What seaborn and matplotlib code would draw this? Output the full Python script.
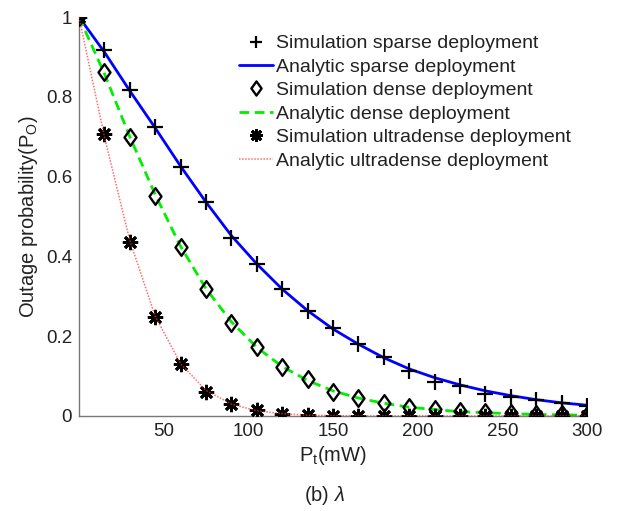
import matplotlib
matplotlib.use("Agg")
import matplotlib.pyplot as plt
import seaborn as sns
import pandas as pd
from matplotlib.path import Path

# ---- data ----
pt_mw = [0, 15, 30, 45, 60, 75, 90, 105, 120, 135, 150, 165, 180, 195, 210, 225, 240, 255, 270, 285, 300]

sim_sparse = [1.0, 0.918, 0.816, 0.725, 0.623, 0.537, 0.447, 0.381, 0.319, 0.262, 0.221, 0.181, 0.148, 0.113,
              0.085, 0.075, 0.055, 0.048, 0.040, 0.033, 0.025]
ana_sparse = [1.0, 0.912, 0.815, 0.722, 0.626, 0.536, 0.452, 0.381, 0.318, 0.264, 0.218, 0.180, 0.146, 0.118,
              0.096, 0.078, 0.063, 0.051, 0.041, 0.033, 0.027]
sim_dense = [1.0, 0.861, 0.700, 0.552, 0.424, 0.319, 0.233, 0.173, 0.123, 0.093, 0.060, 0.045, 0.033, 0.023,
             0.018, 0.013, 0.010, 0.008, 0.006, 0.004, 0.003]
ana_dense = [1.0, 0.858, 0.700, 0.555, 0.425, 0.319, 0.236, 0.172, 0.124, 0.089, 0.063, 0.045, 0.032, 0.022,
             0.016, 0.011, 0.008, 0.006, 0.004, 0.003, 0.002]
sim_ultra = [1.0, 0.706, 0.437, 0.247, 0.131, 0.061, 0.031, 0.015, 0.006, 0.003, 0.001, 0.0, 0.0, 0.0,
             0.0, 0.0, 0.0, 0.0, 0.0, 0.0, 0.0]
ana_ultra = [1.0, 0.700, 0.440, 0.250, 0.131, 0.064, 0.030, 0.013, 0.006, 0.002, 0.001, 0.0, 0.0, 0.0,
             0.0, 0.0, 0.0, 0.0, 0.0, 0.0, 0.0]

labels = ["Simulation sparse deployment", "Analytic sparse deployment",
          "Simulation dense deployment", "Analytic dense deployment",
          "Simulation ultradense deployment", "Analytic ultradense deployment"]
x_ticks = [50, 100, 150, 200, 250, 300]
y_ticks = [0, 0.2, 0.4, 0.6, 0.8, 1]
y_ticklabels = ["0", "0.2", "0.4", "0.6", "0.8", "1"]

df = pd.DataFrame({"pt": pt_mw, "sim_sparse": sim_sparse, "ana_sparse": ana_sparse,
                   "sim_dense": sim_dense, "ana_dense": ana_dense,
                   "sim_ultra": sim_ultra, "ana_ultra": ana_ultra})

sns.set_theme(style="white")
plt.rcParams["font.family"] = ["Liberation Sans", "DejaVu Sans"]
plt.rcParams["mathtext.fontset"] = "custom"
plt.rcParams["mathtext.rm"] = "Liberation Sans"
plt.rcParams["mathtext.it"] = "Liberation Sans:italic"

diamond = Path([(0, 1), (0.72, 0), (0, -1), (-0.72, 0), (0, 1)],
               [Path.MOVETO, Path.LINETO, Path.LINETO, Path.LINETO, Path.CLOSEPOLY])

fig = plt.figure(figsize=(6.24, 5.11), dpi=100)
ax = fig.add_axes([79 / 624, 1 - 416 / 511, (587 - 79) / 624, (416 - 17) / 511])

# analytic lines
sns.lineplot(data=df, x="pt", y="ana_sparse", ax=ax, color="#0000FF", lw=2, label=labels[1], zorder=2)
sns.lineplot(data=df, x="pt", y="ana_dense", ax=ax, color="#00EE00", lw=2, ls=(0, (3.5, 2)), label=labels[3], zorder=2)
sns.lineplot(data=df, x="pt", y="ana_ultra", ax=ax, color="#FF3030", lw=1.1, ls=(0, (1, 1)), alpha=0.7,
             label=labels[5], zorder=5)
# simulation markers
sns.lineplot(data=df, x="pt", y="sim_sparse", ax=ax, color="black", ls="", marker="+", ms=11, mew=1.6,
             mec="black", label=labels[0], zorder=4)
sns.lineplot(data=df, x="pt", y="sim_dense", ax=ax, color="black", ls="", marker=diamond, ms=12, mew=1.7,
             mec="black", mfc="none", label=labels[2], zorder=4)
sns.lineplot(data=df, x="pt", y="sim_ultra", ax=ax, color="black", ls="", marker=(8, 2, 0), ms=11, mew=2.0,
             mec="black", label=labels[4], zorder=4)

ax.set_xlim(0, 300)
ax.set_ylim(0, 1)
ax.set_xticks(x_ticks)
ax.set_yticks(y_ticks)
ax.set_yticklabels(y_ticklabels)
ax.tick_params(direction="in", length=5, width=0.8, colors="#555555", labelcolor="#222222", labelsize=13.5, pad=5)
for s in ["top", "right"]:
    ax.spines[s].set_visible(False)
for s in ["left", "bottom"]:
    ax.spines[s].set_color("#777777")
    ax.spines[s].set_linewidth(1.0)

ax.set_xlabel("P$_\\mathrm{t}$(mW)", fontsize=14.5, color="#222222", labelpad=3)
ax.set_ylabel("Outage probability(P$_\\mathrm{O}$)", fontsize=14.5, color="#222222", labelpad=4)

handles, labs = ax.get_legend_handles_labels()
order = [labs.index(l) for l in labels]
leg = ax.legend([handles[i] for i in order], [labs[i] for i in order], loc="upper left",
                bbox_to_anchor=(0.30, 0.975), frameon=False, fontsize=14, handlelength=1.75,
                handletextpad=0.15, labelspacing=0.3, borderaxespad=0, markerscale=0.85)
for t in leg.get_texts():
    t.set_color("#222222")

fig.text(325 / 624, 1 - 495 / 511, "(b) $\\lambda$", ha="center", va="center", fontsize=14.5, color="#222222")

fig.savefig("out.png", dpi=100)
